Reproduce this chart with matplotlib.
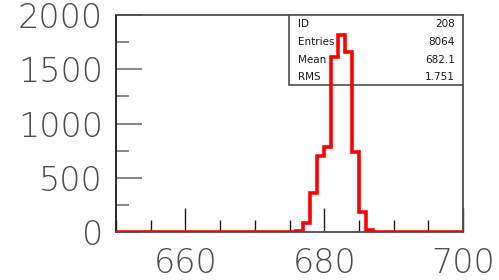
import numpy as np
import matplotlib
matplotlib.use('agg')
import matplotlib.pyplot as plt
from matplotlib.patches import Rectangle
from matplotlib.ticker import MultipleLocator

# histogram contents (1-unit bins, 650..700)
bin_lo = [676, 677, 678, 679, 680, 681, 682, 683, 684, 685, 686]
counts = [10, 87, 363, 700, 788, 1616, 1817, 1662, 741, 180, 15]

stat_names = ['ID', 'Entries', 'Mean', 'RMS']
stat_values = ['208', '8064', '682.1', '1.751']

edges = np.arange(650, 701)
h = np.zeros(len(edges) - 1)
for lo, c in zip(bin_lo, counts):
    h[lo - 650] = c

plt.rcParams['font.family'] = ['DejaVu Sans']
plt.rcParams['font.weight'] = 'light'

fig = plt.figure(figsize=(4.99, 2.8), dpi=100)
ax = fig.add_axes([0.2325, 0.1714, 0.6955, 0.775])

ax.stairs(h, edges, color='red', linewidth=2.6, baseline=None, zorder=5)
ax.set_xlim(650, 700)
ax.set_ylim(0, 2000)

ax.xaxis.set_major_locator(MultipleLocator(20))
ax.xaxis.set_minor_locator(MultipleLocator(5))
ax.yaxis.set_major_locator(MultipleLocator(500))
ax.yaxis.set_minor_locator(MultipleLocator(250))

ax.tick_params(axis='y', which='major', direction='in', length=18.7, width=1.2,
               color='0.45', labelsize=24, labelcolor='0.3', pad=9.5)
ax.tick_params(axis='y', which='minor', direction='in', length=9.4, width=1.2, color='0.45')
ax.tick_params(axis='x', which='major', direction='in', length=17, width=1,
               color='0.1', labelsize=24, labelcolor='0.3', pad=11)
ax.tick_params(axis='x', which='minor', direction='in', length=8.6, width=1, color='0.1')

for s in ax.spines.values():
    s.set_color('0.3')
    s.set_linewidth(1.3)
ax.spines['left'].set_color('0.1')

# stats box
ax.add_patch(Rectangle((0.4986, 0.677), 0.5014, 0.323, transform=ax.transAxes,
                       facecolor='white', edgecolor='0.3', linewidth=1.2, zorder=3))
rows_y = [0.958, 0.876, 0.793, 0.714]
for name, val, y in zip(stat_names, stat_values, rows_y):
    ax.text(0.524, y, name, transform=ax.transAxes, fontsize=7.5, color='0.1',
            fontweight='normal', va='center', ha='left', zorder=4)
    ax.text(0.977, y, val, transform=ax.transAxes, fontsize=7.5, color='0.1',
            fontweight='normal', va='center', ha='right', zorder=4)

fig.savefig('out.png', dpi=100)
